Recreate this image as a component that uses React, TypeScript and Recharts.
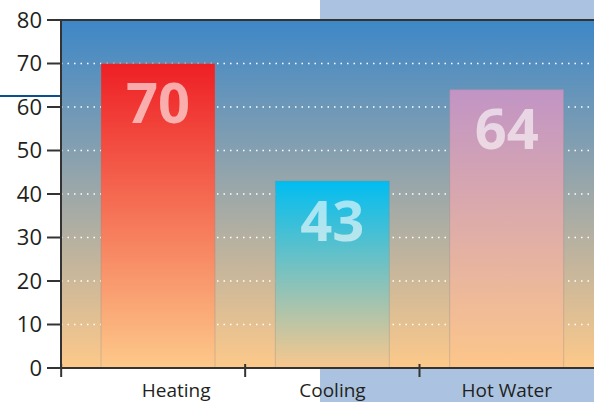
import React from 'react'
import {
	Bar,
	BarChart,
	CartesianGrid,
	Cell,
	LabelList,
	ReferenceLine,
	XAxis,
	YAxis,
} from 'recharts'

const categories = ['Heating', 'Cooling', 'Hot Water']
const values = [70, 43, 64]
const yTicks = [0, 10, 20, 30, 40, 50, 60, 70, 80]

const barColours = [
	['#EE1F25', '#FDC98A'],
	['#00BDF1', '#F9C78C'],
	['#C194C5', '#FDC68A'],
]
const labelShift = [18, 0, 0]

const data = categories.map((name, i) => ({ name, value: values[i] }))

const FONT = '"Open Sans", "DejaVu Sans", sans-serif'

const CategoryTick = (props: any) => {
	const { x, y, payload, index } = props
	const half = 87
	return (
		<g>
			{index === 0 && (
				<line x1={x - half - 10} y1={y - 12} x2={x - half - 10} y2={y + 1} stroke='#333' strokeWidth={2} />
			)}
			{index < 2 && (
				<line x1={x + half} y1={y - 12} x2={x + half} y2={y + 1} stroke='#333' strokeWidth={2} />
			)}
			<text
				x={x + labelShift[index]}
				y={y + 21}
				textAnchor='middle'
				fill='#231F20'
				fontSize={19}
				fontFamily={FONT}
			>
				{payload.value}
			</text>
		</g>
	)
}

const App = () => {
	return (
		<div style={{ position: 'absolute', left: 0, top: 0, width: 594, height: 402, background: '#fff' }}>
			<div style={{ position: 'absolute', left: 320, top: 0, width: 274, height: 402, background: '#ABC3E0' }} />
			<div style={{ position: 'absolute', left: 0, top: 95, width: 61, height: 2, background: '#0A4F92' }} />
			<div style={{ position: 'absolute', left: 0, top: 0 }}>
				<BarChart
					width={594}
					height={402}
					data={data}
					margin={{ top: 20, right: 0, left: 0, bottom: 0 }}
				>
					<defs>
						<linearGradient id='bg' x1='0' y1='0' x2='0' y2='1'>
							<stop offset='0%' stopColor='#3D87C7' />
							<stop offset='100%' stopColor='#FDC98A' />
						</linearGradient>
						{barColours.map((c, i) => (
							<linearGradient key={i} id={'bar' + i} x1='0' y1='0' x2='0' y2='1'>
								<stop offset='0%' stopColor={c[0]} />
								<stop offset='100%' stopColor={c[1]} />
							</linearGradient>
						))}
					</defs>
					<CartesianGrid
						vertical={false}
						fill='url(#bg)'
						fillOpacity={1}
						stroke='#fff'
						strokeDasharray='1.5 5'
						strokeWidth={1.3}
					/>
					<XAxis
						dataKey='name'
						height={34}
						padding={{ left: 10, right: 0 }}
						axisLine={{ stroke: '#333', strokeWidth: 2 }}
						tickLine={false}
						tick={<CategoryTick />}
						interval={0}
					/>
					<YAxis
						width={61}
						domain={[0, 80]}
						ticks={yTicks}
						interval={0}
						tickSize={14}
						tickMargin={5}
						axisLine={{ stroke: '#333', strokeWidth: 2 }}
						tickLine={{ stroke: '#333', strokeWidth: 2 }}
						tick={{ fill: '#231F20', fontSize: 22, fontFamily: FONT }}
					/>
					<ReferenceLine y={80} stroke='#333' strokeWidth={2} />
					<Bar dataKey='value' barSize={114} isAnimationActive={false} stroke='rgba(140,140,140,0.35)'>
						{data.map((d, i) => (
							<Cell key={d.name} fill={'url(#bar' + i + ')'} />
						))}
						<LabelList
							dataKey='value'
							position='insideTop'
							offset={20}
							fill='#fff'
							fillOpacity={0.6}
							fontSize={56}
							fontWeight='bold'
							fontFamily={FONT}
						/>
					</Bar>
				</BarChart>
			</div>
		</div>
	)
}

export default App
